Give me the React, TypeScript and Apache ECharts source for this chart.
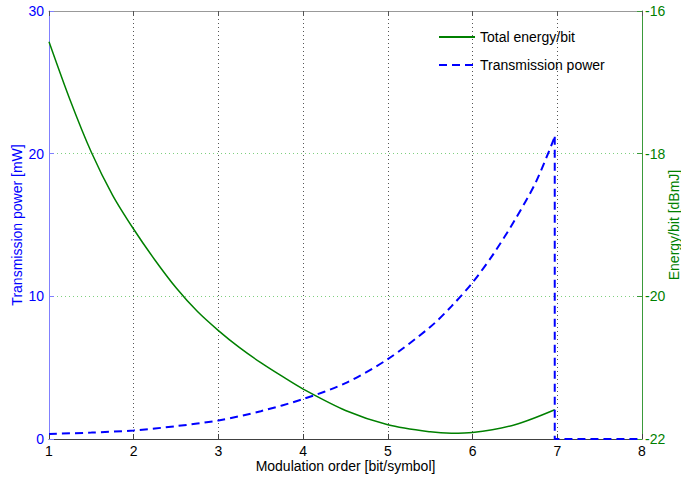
import React, { useEffect, useRef } from "react";
import * as echarts from "echarts";

// Transmission power [mW] vs modulation order (rising part)
const powerX = [1, 1.5, 2, 2.5, 3, 3.5, 4, 4.5, 5, 5.5, 5.75, 6, 6.25, 6.5, 6.75, 6.97];
const powerY = [0.35, 0.45, 0.6, 0.9, 1.3, 1.95, 2.8, 3.92, 5.6, 7.85, 9.3, 10.97, 13.0, 15.36, 18.04, 21.19];
// drop to zero after the last feasible order
const powerDropX = [6.97, 6.97, 8];
const powerDropY = [21.19, 0, 0];

// Total energy/bit [dBmJ] vs modulation order
const energyX = [1, 1.25, 1.5, 1.75, 2, 2.25, 2.5, 2.75, 3, 3.25, 3.5, 3.75, 4, 4.5, 5, 5.5, 5.75, 6, 6.5, 6.97];
const energyY = [-16.43, -17.25, -17.98, -18.58, -19.06, -19.49, -19.88, -20.21, -20.48, -20.72, -20.93, -21.12, -21.3, -21.6, -21.8, -21.9, -21.92, -21.91, -21.8, -21.59];

const seriesNames = ["Total energy/bit", "Transmission power"];
const xName = "Modulation order [bit/symbol]";
const yLeftName = "Transmission power [mW]";
const yRightName = "Energy/bit [dBmJ]";

export default function App() {
  const ref = useRef<HTMLDivElement>(null);
  useEffect(() => {
    if (!ref.current) return;
    const chart = echarts.init(ref.current, null, { renderer: "svg" });
    const font = "Liberation Sans, Arial, Helvetica, sans-serif";
    const blueLine = { color: "#0000ff", width: 2, type: [8, 5] };
    chart.setOption({
      animation: false,
      textStyle: { fontFamily: font },
      grid: { left: 49, right: 39, top: 11, bottom: 41, containLabel: false, outerBoundsMode: "none" },
      legend: {
        orient: "vertical",
        left: 438,
        top: 30,
        padding: 0,
        itemWidth: 36,
        itemHeight: 14,
        itemGap: 14,
        itemStyle: { opacity: 0 },
        textStyle: { fontSize: 14, color: "#000", fontFamily: font },
        data: seriesNames,
      },
      xAxis: [
        {
          type: "value",
          min: 1,
          max: 8,
          interval: 1,
          position: "bottom",
          name: xName,
          nameLocation: "middle",
          nameGap: 20,
          nameMoveOverlap: false,
          nameTextStyle: { fontSize: 14, color: "#000", fontFamily: font },
          axisLine: { show: true, lineStyle: { color: "#404040" } },
          axisTick: { show: true, inside: true, length: 5, lineStyle: { color: "#404040" } },
          axisLabel: { color: "#000", fontSize: 14, margin: 5, fontFamily: font },
          splitLine: { show: true, lineStyle: { type: [1, 3], color: "#555" } },
        },
        {
          type: "value",
          min: 1,
          max: 8,
          interval: 1,
          position: "top",
          axisLine: { show: true, lineStyle: { color: "#999" } },
          axisTick: { show: true, inside: true, length: 5, lineStyle: { color: "#555" } },
          axisLabel: { show: false },
          splitLine: { show: false },
        },
      ],
      yAxis: [
        {
          type: "value",
          min: 0,
          max: 30,
          interval: 10,
          position: "left",
          name: yLeftName,
          nameLocation: "middle",
          nameRotate: 90,
          nameGap: 25,
          nameMoveOverlap: false,
          nameTextStyle: { fontSize: 14, color: "#0000ff", fontFamily: font },
          axisLine: { show: true, lineStyle: { color: "#8080ff" } },
          axisTick: { show: true, inside: true, length: 5, lineStyle: { color: "#8080ff" } },
          axisLabel: { color: "#0000ff", fontSize: 14, margin: 5, fontFamily: font },
          splitLine: { show: false },
        },
        {
          type: "value",
          min: -22,
          max: -16,
          interval: 2,
          position: "right",
          name: yRightName,
          nameLocation: "middle",
          nameRotate: 90,
          nameGap: 25,
          nameMoveOverlap: false,
          nameTextStyle: { fontSize: 14, color: "#008000", fontFamily: font },
          axisLine: { show: true, lineStyle: { color: "#3a9a3a" } },
          axisTick: { show: true, inside: true, length: 5, lineStyle: { color: "#3a9a3a" } },
          axisLabel: { color: "#008000", fontSize: 14, margin: 3, fontFamily: font },
          splitLine: { show: true, lineStyle: { type: [1, 3], color: "#7fd07f" } },
        },
      ],
      series: [
        {
          name: seriesNames[0],
          type: "line",
          xAxisIndex: 0,
          yAxisIndex: 1,
          symbol: "none",
          smooth: 0.3,
          lineStyle: { color: "#008000", width: 1.5 },
          itemStyle: { color: "#008000" },
          data: energyX.map((x, i) => [x, energyY[i]]),
        },
        {
          name: seriesNames[1],
          type: "line",
          xAxisIndex: 0,
          yAxisIndex: 0,
          symbol: "none",
          smooth: 0.3,
          lineStyle: blueLine,
          itemStyle: { color: "#0000ff" },
          data: powerX.map((x, i) => [x, powerY[i]]),
        },
        {
          name: seriesNames[1],
          type: "line",
          xAxisIndex: 0,
          yAxisIndex: 0,
          symbol: "none",
          lineStyle: blueLine,
          itemStyle: { color: "#0000ff" },
          data: powerDropX.map((x, i) => [x, powerDropY[i]]),
        },
      ],
    });
    return () => chart.dispose();
  }, []);
  return (
    <div
      ref={ref}
      style={{ position: "fixed", left: 0, top: 0, width: 681, height: 480, background: "#fff" }}
    />
  );
}
